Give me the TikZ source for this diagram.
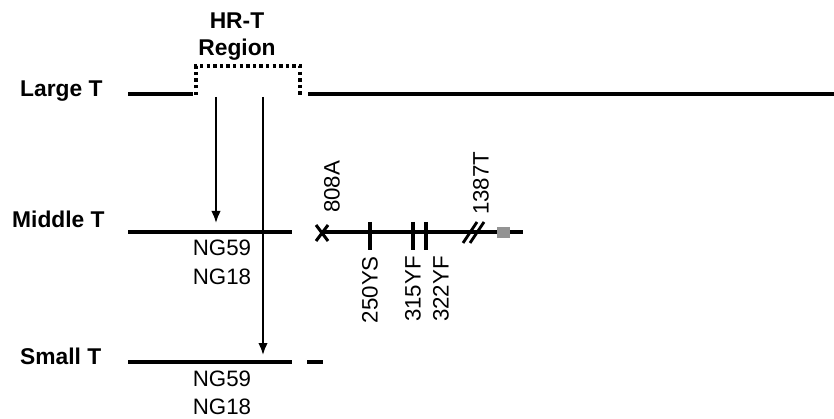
\documentclass[tikz,border=0pt]{standalone}
\usepackage{fontspec}
\setmainfont{Liberation Sans}
\usetikzlibrary{arrows.meta}
\begin{document}
\begin{tikzpicture}[x=1pt,y=-1pt,
  lbl/.style={font=\fontsize{22.8}{24}\selectfont\bfseries, inner sep=0pt},
  txt/.style={font=\fontsize{22.3}{24}\selectfont, inner sep=0pt},
  rtxt/.style={font=\fontsize{22.3}{24}\selectfont, inner sep=0pt, rotate=90},
  bar/.style={line width=4pt},
  tick/.style={line width=3.2pt},
  arr/.style={line width=1.8pt, -{Latex[length=12pt,width=9.5pt]}},
  dotbox/.style={line width=3.8pt, dash pattern=on 3.4pt off 3.2pt}]
\useasboundingbox (0,0) rectangle (834,419);
% labels
\node[lbl, anchor=base west] (lT) at (20,97) {Large T};
\node[lbl, anchor=base west] (mT) at (12,228) {Middle T};
\node[lbl, anchor=base west] (sT) at (20,364) {Small T};
\node[lbl, anchor=base] (hr1) at (237,29) {HR-T};
\node[lbl, anchor=base] (hr2) at (237,56) {Region};
% Large T
\coordinate (L1) at (128,94); \coordinate (L2) at (193,94);
\coordinate (L3) at (308,94); \coordinate (L4) at (834,94);
\draw[bar] (L1) -- (L2);
\draw[bar] (L3) -- (L4);
\draw[dotbox] (196,95) -- (196,66) -- (300,66) -- (300,95);
% Middle T
\coordinate (M1) at (128,232); \coordinate (M2) at (292,232);
\coordinate (M3) at (322,232); \coordinate (M4) at (523,232);
\draw[bar] (M1) -- (M2);
\draw[bar] (M3) -- (M4);
% Small T
\coordinate (S1) at (128,362); \coordinate (S2) at (292,362);
\draw[bar] (S1) -- (S2);
\draw[bar] (307,362) -- (323,362);
% arrows
\coordinate (a1s) at (216,97); \coordinate (a1e) at (216,223);
\coordinate (a2s) at (263,97); \coordinate (a2e) at (263,355);
\draw[arr] (a1s) -- (a1e);
\draw[arr] (a2s) -- (a2e);
% NG labels
\node[txt, anchor=base] (ng1) at (222,256) {NG59};
\node[txt, anchor=base] (ng2) at (222,284) {NG18};
\node[txt, anchor=base] (ng3) at (222,386) {NG59};
\node[txt, anchor=base] (ng4) at (222,414) {NG18};
% X mark
\draw[line width=3pt] (316,225) -- (328,241) (316,241) -- (328,225);
\node[rtxt, anchor=west] (m808) at (332,213) {808A};
% ticks
\draw[tick] (370,222) -- (370,250);
\draw[tick] (413,222) -- (413,250);
\draw[tick] (426,222) -- (426,250);
\node[rtxt, anchor=east] (m250) at (370,256) {250YS};
\node[rtxt, anchor=east] (m315) at (413,256) {315YF};
\node[rtxt, anchor=east] (m322) at (441,256) {322YF};
% double slash
\draw[line width=2.8pt] (463,243) -- (477,222) (470,243) -- (484,222);
\node[rtxt, anchor=west] (m1387) at (481,215) {1387T};
% gray box
\fill[gray!85!white] (497,227) rectangle (510,238);
\end{tikzpicture}
\end{document}
